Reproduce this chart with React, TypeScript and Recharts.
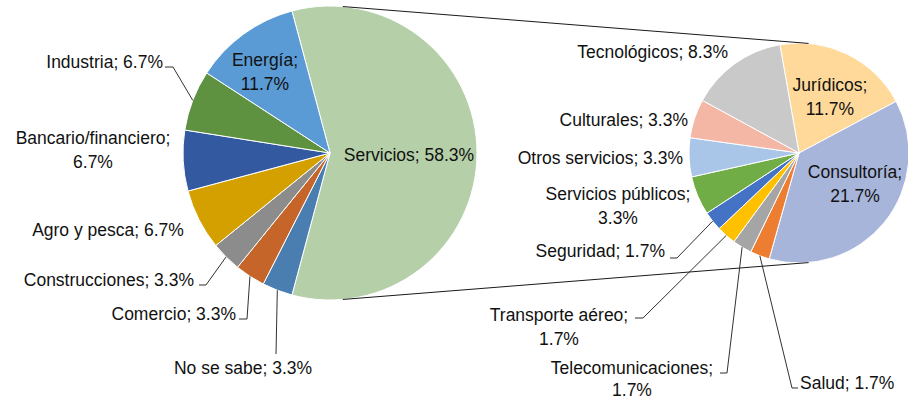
import { PieChart, Pie, Cell } from "recharts";

// main pie: sector of activity (counts out of 60 answers)
const sectors = [
  "Servicios",
  "No se sabe",
  "Comercio",
  "Construcciones",
  "Agro y pesca",
  "Bancario/financiero",
  "Industria",
  "Energía",
];
const sectorCounts = [35, 2, 2, 2, 4, 4, 4, 7];
const sectorColors = [
  "#b5cfa8",
  "#4a7eb0",
  "#c5652a",
  "#8c8c8c",
  "#d4a000",
  "#335aa1",
  "#5e9140",
  "#5b9bd5",
];

// secondary pie: breakdown of "Servicios"
const serviceTypes = [
  "Jurídicos",
  "Consultoría",
  "Salud",
  "Telecomunicaciones",
  "Transporte aéreo",
  "Seguridad",
  "Servicios públicos",
  "Otros servicios",
  "Culturales",
  "Tecnológicos",
];
const serviceCounts = [7, 13, 1, 1, 1, 1, 2, 2, 2, 5];
const serviceColors = [
  "#ffd99a",
  "#a8b5da",
  "#ed7d31",
  "#a5a5a5",
  "#ffc000",
  "#4472c4",
  "#70ad47",
  "#a9c6e8",
  "#f4b6a5",
  "#c9c9c9",
];

const total = sectorCounts.reduce((a, b) => a + b, 0);

const sectorData = sectors.map((name, i) => ({ name, value: sectorCounts[i] }));
const serviceData = serviceTypes.map((name, i) => ({ name, value: serviceCounts[i] }));

const LEFT = { cx: 330, cy: 153, r: 147 };
const RIGHT = { cx: 799, cy: 153, r: 110 };
const CONNECT_ANGLE = 85;

const RAD = Math.PI / 180;
const FONT = '"Liberation Sans", Arial, sans-serif';
const FONT_SIZE = 17.5;
const LINE_H = 24;

type Layout = {
  x: number;
  y: number;
  anchor: "start" | "middle" | "end";
  split?: boolean;
  leader?: [number, number][];
};

// label placement, relative to each pie's centre
const leftLabels: Record<string, Layout> = {
  Servicios: { x: 79, y: 2, anchor: "middle" },
  Energía: { x: -65, y: -93, anchor: "middle", split: true },
  Industria: { x: -167, y: -91, anchor: "end", leader: [[-157, -86], [-165, -86]] },
  "Bancario/financiero": { x: -237, y: -15, anchor: "middle", split: true },
  "Agro y pesca": { x: -222, y: 77, anchor: "middle" },
  Construcciones: { x: -136, y: 127, anchor: "end", leader: [[-124, 132], [-131, 132]] },
  Comercio: { x: -94, y: 161, anchor: "end", leader: [[-83, 166], [-91, 166]] },
  "No se sabe": { x: -87, y: 215, anchor: "middle", leader: [[-54, 201]] },
};

const rightLabels: Record<string, Layout> = {
  Tecnológicos: { x: -71, y: -101, anchor: "end" },
  Jurídicos: { x: 31, y: -68, anchor: "middle", split: true },
  Consultoría: { x: 56, y: 19, anchor: "middle", split: true },
  Culturales: { x: -111, y: -33, anchor: "end" },
  "Otros servicios": { x: -116, y: 5, anchor: "end" },
  "Servicios públicos": { x: -181, y: 41, anchor: "middle", split: true },
  Seguridad: { x: -134, y: 98, anchor: "end", leader: [[-122, 105], [-129, 105]] },
  "Transporte aéreo": { x: -240, y: 162, anchor: "middle", split: true, leader: [[-156, 165], [-164, 165]] },
  Telecomunicaciones: { x: -167, y: 215, anchor: "middle", split: true, leader: [[-72, 220], [-79, 220]] },
  Salud: { x: 1, y: 230, anchor: "start", leader: [[-7, 235], [-1, 235]] },
};

function makeLabel(layout: Record<string, Layout>) {
  return (props: any) => {
    const { cx, cy, midAngle, outerRadius, payload } = props;
    const name = payload.name;
    const lay = layout[name];
    if (!lay) return null;
    const pct = ((payload.value / total) * 100).toFixed(1) + "%";
    const lines = lay.split ? [name + ";", pct] : [`${name}; ${pct}`];
    // tighter second line where the label sits at the bottom edge
    const lh = name === "Telecomunicaciones" ? 22 : LINE_H;
    let leader = null;
    if (lay.leader) {
      const ex = cx + outerRadius * Math.cos(-midAngle * RAD);
      const ey = cy + outerRadius * Math.sin(-midAngle * RAD);
      const pts = [[ex, ey], ...lay.leader.map(([dx, dy]) => [cx + dx, cy + dy])];
      leader = (
        <polyline
          points={pts.map((p) => p.join(",")).join(" ")}
          fill="none"
          stroke="#1a1a1a"
          strokeWidth={0.9}
        />
      );
    }
    return (
      <g key={name}>
        {leader}
        <text
          textAnchor={lay.anchor}
          fontFamily={FONT}
          fontSize={FONT_SIZE}
          fill="#111"
        >
          {lines.map((l, i) => (
            <tspan key={i} x={cx + lay.x} y={cy + lay.y + 6 + i * lh}>
              {l}
            </tspan>
          ))}
        </text>
      </g>
    );
  };
}

function Connectors() {
  const pt = (p: typeof LEFT, a: number) => [
    p.cx + p.r * Math.cos(a * RAD),
    p.cy - p.r * Math.sin(a * RAD),
  ];
  const [x1, y1] = pt(LEFT, CONNECT_ANGLE);
  const [x2, y2] = pt(RIGHT, CONNECT_ANGLE);
  const [x3, y3] = pt(LEFT, -CONNECT_ANGLE);
  const [x4, y4] = pt(RIGHT, -CONNECT_ANGLE);
  return (
    <svg
      width={908}
      height={402}
      style={{ position: "absolute", left: 0, top: 0, pointerEvents: "none" }}
    >
      <line x1={x1} y1={y1} x2={x2} y2={y2} stroke="#1a1a1a" strokeWidth={1} />
      <line x1={x3} y1={y3} x2={x4} y2={y4} stroke="#1a1a1a" strokeWidth={1} />
    </svg>
  );
}

export default function App() {
  return (
    <div
      style={{
        position: "absolute",
        left: 0,
        top: 0,
        width: 908,
        height: 402,
        background: "#fff",
      }}
    >
      <PieChart width={908} height={402} margin={{ top: 0, right: 0, bottom: 0, left: 0 }}>
        <Pie
          data={sectorData}
          dataKey="value"
          nameKey="name"
          cx={LEFT.cx}
          cy={LEFT.cy}
          outerRadius={LEFT.r}
          startAngle={105}
          endAngle={-255}
          stroke="#fff"
          strokeWidth={1}
          label={makeLabel(leftLabels)}
          labelLine={false}
          isAnimationActive={false}
        >
          {sectorData.map((d, i) => (
            <Cell key={d.name} fill={sectorColors[i]} />
          ))}
        </Pie>
        <Pie
          data={serviceData}
          dataKey="value"
          nameKey="name"
          cx={RIGHT.cx}
          cy={RIGHT.cy}
          outerRadius={RIGHT.r}
          startAngle={100}
          endAngle={-260}
          stroke="#fff"
          strokeWidth={1}
          label={makeLabel(rightLabels)}
          labelLine={false}
          isAnimationActive={false}
        >
          {serviceData.map((d, i) => (
            <Cell key={d.name} fill={serviceColors[i]} />
          ))}
        </Pie>
      </PieChart>
      <Connectors />
    </div>
  );
}
